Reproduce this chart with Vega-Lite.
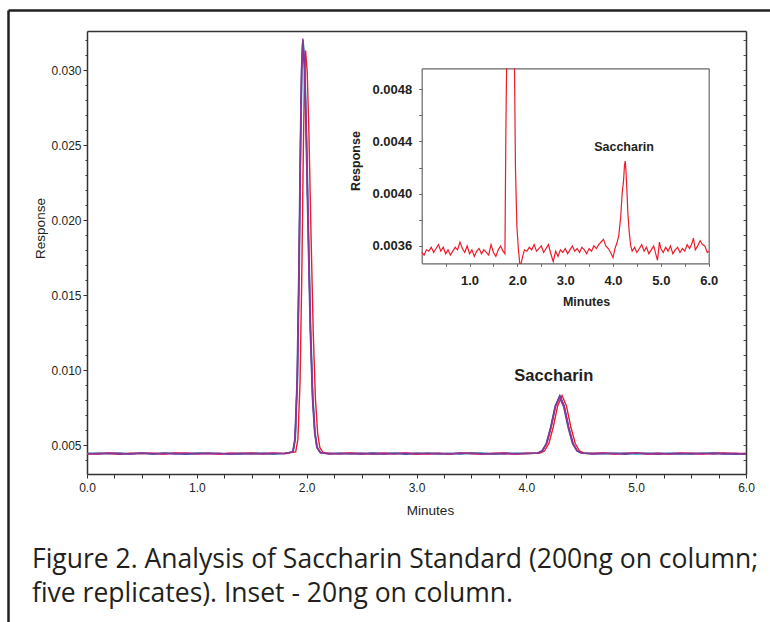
{
  "$schema": "https://vega.github.io/schema/vega-lite/v6.json",
  "width": 762,
  "height": 612,
  "autosize": "none",
  "padding": {"left": 8, "top": 10, "right": 0, "bottom": 0},
  "background": "white",
  "config": {
    "view": {"stroke": null},
    "axis": {"labelFont": "Liberation Sans", "titleFont": "Liberation Sans", "grid": false, "labelOverlap": false, "labelFlush": false}
  },
  "title": {
    "text": ["Figure 2. Analysis of Saccharin Standard (200ng on column;", "five replicates). Inset - 20ng on column."],
    "orient": "bottom", "anchor": "start", "frame": "group", "offset": -57, "dx": 24,
    "font": "Open Sans", "fontSize": 26.5, "fontWeight": "normal", "color": "#231f20",
    "lineHeight": 34, "baseline": "alphabetic"
  },
  "datasets": {
    "main": [
      {"s":"C","t":0,"r":0.00443},{"s":"C","t":0.1,"r":0.00446},{"s":"C","t":0.2,"r":0.004415},{"s":"C","t":0.3,"r":0.004475},{"s":"C","t":0.4,"r":0.0044},{"s":"C","t":0.5,"r":0.004445},{"s":"C","t":0.6,"r":0.004385},{"s":"C","t":0.7,"r":0.00446},{"s":"C","t":0.8,"r":0.00443},{"s":"C","t":0.9,"r":0.004415},{"s":"C","t":1,"r":0.004475},{"s":"C","t":1.1,"r":0.004445},{"s":"C","t":1.2,"r":0.0044},{"s":"C","t":1.3,"r":0.00443},{"s":"C","t":1.4,"r":0.00446},{"s":"C","t":1.5,"r":0.004415},{"s":"C","t":1.6,"r":0.004445},{"s":"C","t":1.7,"r":0.0044},{"s":"C","t":1.8,"r":0.00443},
      {"s":"C","t":1.878,"r":0.00454},{"s":"C","t":1.898,"r":0.0054},{"s":"C","t":1.918,"r":0.00939},{"s":"C","t":1.933,"r":0.01634},{"s":"C","t":1.948,"r":0.02538},{"s":"C","t":1.958,"r":0.03018},{"s":"C","t":1.968,"r":0.032},{"s":"C","t":1.983,"r":0.03051},{"s":"C","t":1.998,"r":0.02651},{"s":"C","t":2.018,"r":0.01929},{"s":"C","t":2.038,"r":0.01265},{"s":"C","t":2.058,"r":0.00815},{"s":"C","t":2.078,"r":0.00581},{"s":"C","t":2.098,"r":0.00484},{"s":"C","t":2.128,"r":0.00449},
      {"s":"C","t":2.2,"r":0.004445},{"s":"C","t":2.3,"r":0.0044},{"s":"C","t":2.4,"r":0.00446},{"s":"C","t":2.5,"r":0.00443},{"s":"C","t":2.6,"r":0.004385},{"s":"C","t":2.7,"r":0.004445},{"s":"C","t":2.8,"r":0.004475},{"s":"C","t":2.9,"r":0.004415},{"s":"C","t":3,"r":0.00443},{"s":"C","t":3.1,"r":0.00446},{"s":"C","t":3.2,"r":0.0044},{"s":"C","t":3.3,"r":0.004445},{"s":"C","t":3.4,"r":0.00443},{"s":"C","t":3.5,"r":0.004415},{"s":"C","t":3.6,"r":0.004475},{"s":"C","t":3.7,"r":0.0044},{"s":"C","t":3.8,"r":0.00443},{"s":"C","t":3.9,"r":0.00446},{"s":"C","t":4,"r":0.004445},
      {"s":"C","t":4.105,"r":0.00446},{"s":"C","t":4.145,"r":0.0046},{"s":"C","t":4.185,"r":0.0051},{"s":"C","t":4.225,"r":0.0062},{"s":"C","t":4.265,"r":0.00761},{"s":"C","t":4.305,"r":0.0083},{"s":"C","t":4.345,"r":0.00761},{"s":"C","t":4.385,"r":0.0062},{"s":"C","t":4.425,"r":0.0051},{"s":"C","t":4.465,"r":0.0046},{"s":"C","t":4.505,"r":0.00446},
      {"s":"C","t":4.6,"r":0.00446},{"s":"C","t":4.7,"r":0.004415},{"s":"C","t":4.8,"r":0.00443},{"s":"C","t":4.9,"r":0.004475},{"s":"C","t":5,"r":0.0044},{"s":"C","t":5.1,"r":0.004445},{"s":"C","t":5.2,"r":0.004415},{"s":"C","t":5.3,"r":0.00446},{"s":"C","t":5.4,"r":0.00443},{"s":"C","t":5.5,"r":0.004385},{"s":"C","t":5.6,"r":0.004445},{"s":"C","t":5.7,"r":0.00446},{"s":"C","t":5.8,"r":0.004415},{"s":"C","t":5.9,"r":0.00443},{"s":"C","t":6,"r":0.0044},

      {"s":"R","t":0,"r":0.0044},{"s":"R","t":0.1,"r":0.004445},{"s":"R","t":0.2,"r":0.00443},{"s":"R","t":0.3,"r":0.004385},{"s":"R","t":0.4,"r":0.00446},{"s":"R","t":0.5,"r":0.00443},{"s":"R","t":0.6,"r":0.004445},{"s":"R","t":0.7,"r":0.0044},{"s":"R","t":0.8,"r":0.004475},{"s":"R","t":0.9,"r":0.00443},{"s":"R","t":1,"r":0.004415},{"s":"R","t":1.1,"r":0.00446},{"s":"R","t":1.2,"r":0.0044},{"s":"R","t":1.3,"r":0.004445},{"s":"R","t":1.4,"r":0.00443},{"s":"R","t":1.5,"r":0.004475},{"s":"R","t":1.6,"r":0.004415},{"s":"R","t":1.7,"r":0.00443},{"s":"R","t":1.8,"r":0.004445},
      {"s":"R","t":1.9,"r":0.00454},{"s":"R","t":1.92,"r":0.00537},{"s":"R","t":1.94,"r":0.00927},{"s":"R","t":1.955,"r":0.01604},{"s":"R","t":1.97,"r":0.02485},{"s":"R","t":1.98,"r":0.02953},{"s":"R","t":1.99,"r":0.0313},{"s":"R","t":2.005,"r":0.02985},{"s":"R","t":2.02,"r":0.02595},{"s":"R","t":2.04,"r":0.01891},{"s":"R","t":2.06,"r":0.01244},{"s":"R","t":2.08,"r":0.00806},{"s":"R","t":2.1,"r":0.00577},{"s":"R","t":2.12,"r":0.00483},{"s":"R","t":2.15,"r":0.00449},
      {"s":"R","t":2.2,"r":0.004415},{"s":"R","t":2.3,"r":0.00443},{"s":"R","t":2.4,"r":0.004475},{"s":"R","t":2.5,"r":0.0044},{"s":"R","t":2.6,"r":0.004445},{"s":"R","t":2.7,"r":0.00443},{"s":"R","t":2.8,"r":0.004415},{"s":"R","t":2.9,"r":0.00446},{"s":"R","t":3,"r":0.004385},{"s":"R","t":3.1,"r":0.00443},{"s":"R","t":3.2,"r":0.004445},{"s":"R","t":3.3,"r":0.0044},{"s":"R","t":3.4,"r":0.00446},{"s":"R","t":3.5,"r":0.00443},{"s":"R","t":3.6,"r":0.004415},{"s":"R","t":3.7,"r":0.004445},{"s":"R","t":3.8,"r":0.004475},{"s":"R","t":3.9,"r":0.0044},{"s":"R","t":4,"r":0.00443},
      {"s":"R","t":4.125,"r":0.00446},{"s":"R","t":4.165,"r":0.0046},{"s":"R","t":4.205,"r":0.0051},{"s":"R","t":4.245,"r":0.0062},{"s":"R","t":4.285,"r":0.00761},{"s":"R","t":4.325,"r":0.0083},{"s":"R","t":4.365,"r":0.00761},{"s":"R","t":4.405,"r":0.0062},{"s":"R","t":4.445,"r":0.0051},{"s":"R","t":4.485,"r":0.0046},{"s":"R","t":4.525,"r":0.00446},
      {"s":"R","t":4.6,"r":0.00443},{"s":"R","t":4.7,"r":0.00446},{"s":"R","t":4.8,"r":0.0044},{"s":"R","t":4.9,"r":0.004445},{"s":"R","t":5,"r":0.004475},{"s":"R","t":5.1,"r":0.004415},{"s":"R","t":5.2,"r":0.00443},{"s":"R","t":5.3,"r":0.0044},{"s":"R","t":5.4,"r":0.004445},{"s":"R","t":5.5,"r":0.00446},{"s":"R","t":5.6,"r":0.004415},{"s":"R","t":5.7,"r":0.00443},{"s":"R","t":5.8,"r":0.004475},{"s":"R","t":5.9,"r":0.0044},{"s":"R","t":6,"r":0.004445},

      {"s":"B","t":0,"r":0.004445},{"s":"B","t":0.1,"r":0.004415},{"s":"B","t":0.2,"r":0.00446},{"s":"B","t":0.3,"r":0.00443},{"s":"B","t":0.4,"r":0.0044},{"s":"B","t":0.5,"r":0.004475},{"s":"B","t":0.6,"r":0.004415},{"s":"B","t":0.7,"r":0.00443},{"s":"B","t":0.8,"r":0.004445},{"s":"B","t":0.9,"r":0.004385},{"s":"B","t":1,"r":0.00443},{"s":"B","t":1.1,"r":0.00446},{"s":"B","t":1.2,"r":0.004445},{"s":"B","t":1.3,"r":0.004415},{"s":"B","t":1.4,"r":0.0044},{"s":"B","t":1.5,"r":0.00443},{"s":"B","t":1.6,"r":0.00446},{"s":"B","t":1.7,"r":0.004415},{"s":"B","t":1.8,"r":0.004445},
      {"s":"B","t":1.872,"r":0.00454},{"s":"B","t":1.892,"r":0.00539},{"s":"B","t":1.912,"r":0.00936},{"s":"B","t":1.927,"r":0.01625},{"s":"B","t":1.942,"r":0.02523},{"s":"B","t":1.952,"r":0.02999},{"s":"B","t":1.962,"r":0.0318},{"s":"B","t":1.977,"r":0.03032},{"s":"B","t":1.992,"r":0.02635},{"s":"B","t":2.012,"r":0.01918},{"s":"B","t":2.032,"r":0.01259},{"s":"B","t":2.052,"r":0.00813},{"s":"B","t":2.072,"r":0.0058},{"s":"B","t":2.092,"r":0.00484},{"s":"B","t":2.122,"r":0.00449},
      {"s":"B","t":2.2,"r":0.00443},{"s":"B","t":2.3,"r":0.00446},{"s":"B","t":2.4,"r":0.004415},{"s":"B","t":2.5,"r":0.0044},{"s":"B","t":2.6,"r":0.004475},{"s":"B","t":2.7,"r":0.00443},{"s":"B","t":2.8,"r":0.004445},{"s":"B","t":2.9,"r":0.004385},{"s":"B","t":3,"r":0.00446},{"s":"B","t":3.1,"r":0.004415},{"s":"B","t":3.2,"r":0.00443},{"s":"B","t":3.3,"r":0.004445},{"s":"B","t":3.4,"r":0.0044},{"s":"B","t":3.5,"r":0.004475},{"s":"B","t":3.6,"r":0.00443},{"s":"B","t":3.7,"r":0.004415},{"s":"B","t":3.8,"r":0.00446},{"s":"B","t":3.9,"r":0.004415},{"s":"B","t":4,"r":0.004445},
      {"s":"B","t":4.1,"r":0.00446},{"s":"B","t":4.14,"r":0.0046},{"s":"B","t":4.18,"r":0.00508},{"s":"B","t":4.22,"r":0.00616},{"s":"B","t":4.26,"r":0.00753},{"s":"B","t":4.3,"r":0.0082},{"s":"B","t":4.34,"r":0.00753},{"s":"B","t":4.38,"r":0.00616},{"s":"B","t":4.42,"r":0.00508},{"s":"B","t":4.46,"r":0.0046},{"s":"B","t":4.5,"r":0.00446},
      {"s":"B","t":4.6,"r":0.004415},{"s":"B","t":4.7,"r":0.00443},{"s":"B","t":4.8,"r":0.00446},{"s":"B","t":4.9,"r":0.004385},{"s":"B","t":5,"r":0.004445},{"s":"B","t":5.1,"r":0.00443},{"s":"B","t":5.2,"r":0.00446},{"s":"B","t":5.3,"r":0.004415},{"s":"B","t":5.4,"r":0.0044},{"s":"B","t":5.5,"r":0.004445},{"s":"B","t":5.6,"r":0.00443},{"s":"B","t":5.7,"r":0.004475},{"s":"B","t":5.8,"r":0.004415},{"s":"B","t":5.9,"r":0.0044},{"s":"B","t":6,"r":0.00443},

      {"s":"M","t":0,"r":0.00443},{"s":"M","t":0.1,"r":0.0044},{"s":"M","t":0.2,"r":0.004475},{"s":"M","t":0.3,"r":0.004445},{"s":"M","t":0.4,"r":0.004415},{"s":"M","t":0.5,"r":0.00443},{"s":"M","t":0.6,"r":0.00446},{"s":"M","t":0.7,"r":0.0044},{"s":"M","t":0.8,"r":0.004445},{"s":"M","t":0.9,"r":0.004475},{"s":"M","t":1,"r":0.004415},{"s":"M","t":1.1,"r":0.00443},{"s":"M","t":1.2,"r":0.0044},{"s":"M","t":1.3,"r":0.00446},{"s":"M","t":1.4,"r":0.004445},{"s":"M","t":1.5,"r":0.004415},{"s":"M","t":1.6,"r":0.00443},{"s":"M","t":1.7,"r":0.004475},{"s":"M","t":1.8,"r":0.004415},
      {"s":"M","t":1.875,"r":0.00454},{"s":"M","t":1.895,"r":0.00539},{"s":"M","t":1.915,"r":0.00937},{"s":"M","t":1.93,"r":0.0163},{"s":"M","t":1.945,"r":0.02531},{"s":"M","t":1.955,"r":0.03009},{"s":"M","t":1.965,"r":0.0319},{"s":"M","t":1.98,"r":0.03042},{"s":"M","t":1.995,"r":0.02643},{"s":"M","t":2.015,"r":0.01924},{"s":"M","t":2.035,"r":0.01262},{"s":"M","t":2.055,"r":0.00814},{"s":"M","t":2.075,"r":0.0058},{"s":"M","t":2.095,"r":0.00484},{"s":"M","t":2.125,"r":0.00449},
      {"s":"M","t":2.2,"r":0.00446},{"s":"M","t":2.3,"r":0.004415},{"s":"M","t":2.4,"r":0.00443},{"s":"M","t":2.5,"r":0.004445},{"s":"M","t":2.6,"r":0.0044},{"s":"M","t":2.7,"r":0.00446},{"s":"M","t":2.8,"r":0.004415},{"s":"M","t":2.9,"r":0.004475},{"s":"M","t":3,"r":0.00443},{"s":"M","t":3.1,"r":0.0044},{"s":"M","t":3.2,"r":0.004445},{"s":"M","t":3.3,"r":0.004415},{"s":"M","t":3.4,"r":0.00446},{"s":"M","t":3.5,"r":0.00443},{"s":"M","t":3.6,"r":0.004385},{"s":"M","t":3.7,"r":0.004445},{"s":"M","t":3.8,"r":0.00443},{"s":"M","t":3.9,"r":0.0044},{"s":"M","t":4,"r":0.00446},
      {"s":"M","t":4.105,"r":0.00446},{"s":"M","t":4.145,"r":0.0046},{"s":"M","t":4.185,"r":0.00508},{"s":"M","t":4.225,"r":0.00616},{"s":"M","t":4.265,"r":0.00753},{"s":"M","t":4.305,"r":0.0082},{"s":"M","t":4.345,"r":0.00753},{"s":"M","t":4.385,"r":0.00616},{"s":"M","t":4.425,"r":0.00508},{"s":"M","t":4.465,"r":0.0046},{"s":"M","t":4.505,"r":0.00446},
      {"s":"M","t":4.6,"r":0.004445},{"s":"M","t":4.7,"r":0.004475},{"s":"M","t":4.8,"r":0.004415},{"s":"M","t":4.9,"r":0.00443},{"s":"M","t":5,"r":0.00446},{"s":"M","t":5.1,"r":0.0044},{"s":"M","t":5.2,"r":0.004445},{"s":"M","t":5.3,"r":0.004415},{"s":"M","t":5.4,"r":0.004475},{"s":"M","t":5.5,"r":0.00443},{"s":"M","t":5.6,"r":0.0044},{"s":"M","t":5.7,"r":0.004445},{"s":"M","t":5.8,"r":0.00443},{"s":"M","t":5.9,"r":0.00446},{"s":"M","t":6,"r":0.004415},

      {"s":"P","t":0,"r":0.004415},{"s":"P","t":0.1,"r":0.00443},{"s":"P","t":0.2,"r":0.004445},{"s":"P","t":0.3,"r":0.0044},{"s":"P","t":0.4,"r":0.00443},{"s":"P","t":0.5,"r":0.00446},{"s":"P","t":0.6,"r":0.004415},{"s":"P","t":0.7,"r":0.004475},{"s":"P","t":0.8,"r":0.0044},{"s":"P","t":0.9,"r":0.00443},{"s":"P","t":1,"r":0.004445},{"s":"P","t":1.1,"r":0.004415},{"s":"P","t":1.2,"r":0.00446},{"s":"P","t":1.3,"r":0.004385},{"s":"P","t":1.4,"r":0.00443},{"s":"P","t":1.5,"r":0.004445},{"s":"P","t":1.6,"r":0.0044},{"s":"P","t":1.7,"r":0.00443},{"s":"P","t":1.8,"r":0.00446},
      {"s":"P","t":1.875,"r":0.00454},{"s":"P","t":1.895,"r":0.0054},{"s":"P","t":1.915,"r":0.00941},{"s":"P","t":1.93,"r":0.01638},{"s":"P","t":1.945,"r":0.02546},{"s":"P","t":1.955,"r":0.03027},{"s":"P","t":1.965,"r":0.0321},{"s":"P","t":1.98,"r":0.03061},{"s":"P","t":1.995,"r":0.02659},{"s":"P","t":2.015,"r":0.01934},{"s":"P","t":2.035,"r":0.01268},{"s":"P","t":2.055,"r":0.00817},{"s":"P","t":2.075,"r":0.00581},{"s":"P","t":2.095,"r":0.00485},{"s":"P","t":2.125,"r":0.00449},
      {"s":"P","t":2.2,"r":0.0044},{"s":"P","t":2.3,"r":0.004445},{"s":"P","t":2.4,"r":0.004415},{"s":"P","t":2.5,"r":0.00446},{"s":"P","t":2.6,"r":0.00443},{"s":"P","t":2.7,"r":0.004385},{"s":"P","t":2.8,"r":0.004445},{"s":"P","t":2.9,"r":0.00443},{"s":"P","t":3,"r":0.004415},{"s":"P","t":3.1,"r":0.00446},{"s":"P","t":3.2,"r":0.00443},{"s":"P","t":3.3,"r":0.0044},{"s":"P","t":3.4,"r":0.004475},{"s":"P","t":3.5,"r":0.004445},{"s":"P","t":3.6,"r":0.004415},{"s":"P","t":3.7,"r":0.00443},{"s":"P","t":3.8,"r":0.0044},{"s":"P","t":3.9,"r":0.004445},{"s":"P","t":4,"r":0.004415},
      {"s":"P","t":4.105,"r":0.00446},{"s":"P","t":4.145,"r":0.0046},{"s":"P","t":4.185,"r":0.0051},{"s":"P","t":4.225,"r":0.0062},{"s":"P","t":4.265,"r":0.00761},{"s":"P","t":4.305,"r":0.0083},{"s":"P","t":4.345,"r":0.00761},{"s":"P","t":4.385,"r":0.0062},{"s":"P","t":4.425,"r":0.0051},{"s":"P","t":4.465,"r":0.0046},{"s":"P","t":4.505,"r":0.00446},
      {"s":"P","t":4.6,"r":0.0044},{"s":"P","t":4.7,"r":0.00443},{"s":"P","t":4.8,"r":0.004445},{"s":"P","t":4.9,"r":0.004415},{"s":"P","t":5,"r":0.00446},{"s":"P","t":5.1,"r":0.00443},{"s":"P","t":5.2,"r":0.004385},{"s":"P","t":5.3,"r":0.004445},{"s":"P","t":5.4,"r":0.00443},{"s":"P","t":5.5,"r":0.004415},{"s":"P","t":5.6,"r":0.00446},{"s":"P","t":5.7,"r":0.0044},{"s":"P","t":5.8,"r":0.00443},{"s":"P","t":5.9,"r":0.004415},{"s":"P","t":6,"r":0.004385}
    ],
    "inset": [
      {"g":1,"t":0,"r":0.00355},{"g":1,"t":0.05,"r":0.00353},{"g":1,"t":0.1,"r":0.00357},{"g":1,"t":0.15,"r":0.00356},{"g":1,"t":0.2,"r":0.00359},{"g":1,"t":0.25,"r":0.00355},{"g":1,"t":0.3,"r":0.00358},{"g":1,"t":0.35,"r":0.00361},{"g":1,"t":0.4,"r":0.00356},{"g":1,"t":0.45,"r":0.00359},{"g":1,"t":0.5,"r":0.00354},{"g":1,"t":0.55,"r":0.00357},{"g":1,"t":0.6,"r":0.00353},{"g":1,"t":0.65,"r":0.00356},{"g":1,"t":0.7,"r":0.00359},{"g":1,"t":0.75,"r":0.00357},{"g":1,"t":0.8,"r":0.00363},{"g":1,"t":0.85,"r":0.00358},{"g":1,"t":0.9,"r":0.00355},{"g":1,"t":0.95,"r":0.0036},{"g":1,"t":1,"r":0.00354},{"g":1,"t":1.05,"r":0.00357},{"g":1,"t":1.1,"r":0.00352},{"g":1,"t":1.15,"r":0.00356},{"g":1,"t":1.2,"r":0.00358},{"g":1,"t":1.25,"r":0.00354},{"g":1,"t":1.3,"r":0.00357},{"g":1,"t":1.35,"r":0.00355},{"g":1,"t":1.4,"r":0.00353},{"g":1,"t":1.45,"r":0.00361},{"g":1,"t":1.5,"r":0.00355},{"g":1,"t":1.55,"r":0.00352},{"g":1,"t":1.6,"r":0.00357},{"g":1,"t":1.65,"r":0.0036},{"g":1,"t":1.7,"r":0.00356},{"g":1,"t":1.74,"r":0.00354},{"g":1,"t":1.76,"r":0.0045},{"g":1,"t":1.775,"r":0.0052},
      {"g":2,"t":1.94,"r":0.0052},{"g":2,"t":1.96,"r":0.0042},{"g":2,"t":1.99,"r":0.00375},{"g":2,"t":2.02,"r":0.00358},{"g":2,"t":2.05,"r":0.00345},{"g":2,"t":2.08,"r":0.00344},{"g":2,"t":2.11,"r":0.00352},{"g":2,"t":2.15,"r":0.00357},{"g":2,"t":2.2,"r":0.00356},{"g":2,"t":2.25,"r":0.00359},{"g":2,"t":2.3,"r":0.00357},{"g":2,"t":2.35,"r":0.00361},{"g":2,"t":2.4,"r":0.00356},{"g":2,"t":2.45,"r":0.00358},{"g":2,"t":2.5,"r":0.0036},{"g":2,"t":2.55,"r":0.00355},{"g":2,"t":2.6,"r":0.00358},{"g":2,"t":2.65,"r":0.00361},{"g":2,"t":2.7,"r":0.00354},{"g":2,"t":2.75,"r":0.00348},{"g":2,"t":2.8,"r":0.00356},{"g":2,"t":2.85,"r":0.00352},{"g":2,"t":2.9,"r":0.00357},{"g":2,"t":2.95,"r":0.00355},{"g":2,"t":3,"r":0.00358},{"g":2,"t":3.05,"r":0.00354},{"g":2,"t":3.1,"r":0.00357},{"g":2,"t":3.15,"r":0.0036},{"g":2,"t":3.2,"r":0.00356},{"g":2,"t":3.25,"r":0.00358},{"g":2,"t":3.3,"r":0.00355},{"g":2,"t":3.35,"r":0.00359},{"g":2,"t":3.4,"r":0.00357},{"g":2,"t":3.45,"r":0.00354},{"g":2,"t":3.5,"r":0.00358},{"g":2,"t":3.55,"r":0.00356},{"g":2,"t":3.6,"r":0.0036},{"g":2,"t":3.65,"r":0.00358},{"g":2,"t":3.7,"r":0.00361},{"g":2,"t":3.75,"r":0.00363},{"g":2,"t":3.8,"r":0.00365},{"g":2,"t":3.85,"r":0.0036},{"g":2,"t":3.9,"r":0.00358},{"g":2,"t":3.95,"r":0.00355},{"g":2,"t":4,"r":0.00351},
      {"g":2,"t":4.04,"r":0.00358},{"g":2,"t":4.08,"r":0.00362},{"g":2,"t":4.12,"r":0.00368},{"g":2,"t":4.16,"r":0.00382},{"g":2,"t":4.19,"r":0.004},{"g":2,"t":4.22,"r":0.0041},{"g":2,"t":4.24,"r":0.00422},{"g":2,"t":4.255,"r":0.00425},{"g":2,"t":4.27,"r":0.00418},{"g":2,"t":4.29,"r":0.00402},{"g":2,"t":4.31,"r":0.00385},{"g":2,"t":4.34,"r":0.0037},{"g":2,"t":4.37,"r":0.0036},{"g":2,"t":4.4,"r":0.00356},{"g":2,"t":4.45,"r":0.00359},{"g":2,"t":4.5,"r":0.00355},{"g":2,"t":4.55,"r":0.00358},{"g":2,"t":4.6,"r":0.00361},{"g":2,"t":4.65,"r":0.00356},{"g":2,"t":4.7,"r":0.00359},{"g":2,"t":4.75,"r":0.00354},{"g":2,"t":4.8,"r":0.00357},{"g":2,"t":4.85,"r":0.0036},{"g":2,"t":4.9,"r":0.00353},{"g":2,"t":4.93,"r":0.00349},{"g":2,"t":4.97,"r":0.00363},{"g":2,"t":5,"r":0.00358},{"g":2,"t":5.05,"r":0.00355},{"g":2,"t":5.1,"r":0.00359},{"g":2,"t":5.15,"r":0.00356},{"g":2,"t":5.2,"r":0.0036},{"g":2,"t":5.25,"r":0.00354},{"g":2,"t":5.3,"r":0.00357},{"g":2,"t":5.35,"r":0.00359},{"g":2,"t":5.4,"r":0.00355},{"g":2,"t":5.45,"r":0.00358},{"g":2,"t":5.5,"r":0.00356},{"g":2,"t":5.55,"r":0.00361},{"g":2,"t":5.6,"r":0.00358},{"g":2,"t":5.65,"r":0.00362},{"g":2,"t":5.68,"r":0.00366},{"g":2,"t":5.72,"r":0.00357},{"g":2,"t":5.77,"r":0.0036},{"g":2,"t":5.82,"r":0.00364},{"g":2,"t":5.87,"r":0.00361},{"g":2,"t":5.92,"r":0.0036},{"g":2,"t":5.97,"r":0.00355},{"g":2,"t":6,"r":0.00356}
    ],
    "labels": [
      {"plot":"main","t":4.25,"r":0.0096,"label":"Saccharin"},
      {"plot":"inset","t":4.23,"r":0.00436,"label":"Saccharin"}
    ]
  },
  "layer": [
    {
      "data": {"values": [{"a": 0}]},
      "mark": {"type": "point", "opacity": 0},
      "encoding": {
        "x": {"field": "a", "type": "quantitative", "scale": {"domain": [0, 1], "nice": false},
          "axis": {"orient": "top", "offset": 0, "ticks": false, "labels": false, "title": null, "domainColor": "#231f20", "domainWidth": 2.5}},
        "y": {"field": "a", "type": "quantitative", "scale": {"domain": [0, 1], "nice": false},
          "axis": {"orient": "left", "offset": 0, "ticks": false, "labels": false, "title": null, "domainColor": "#231f20", "domainWidth": 2.5}}
      }
    },
    {
      "layer": [
        {
          "data": {"name": "main"},
          "mark": {"type": "line", "strokeWidth": 1.4},
          "encoding": {
            "x": {"field": "t", "type": "quantitative",
              "scale": {"domain": [0, 6], "range": [79, 738], "nice": false, "zero": false},
              "axis": {"orient": "bottom", "offset": -148,
                "values": [0,0.25,0.5,0.75,1,1.25,1.5,1.75,2,2.25,2.5,2.75,3,3.25,3.5,3.75,4,4.25,4.5,4.75,5,5.25,5.5,5.75,6],
                "labelExpr": "datum.value % 1 === 0 ? format(datum.value, '.1f') : ''",
                "tickSize": 4, "labelPadding": 4, "labelFontSize": 12, "labelColor": "#231f20",
                "domainColor": "#333333", "domainWidth": 1.5, "tickColor": "#333333",
                "title": "Minutes", "titleFontSize": 13.5, "titleFontWeight": "normal", "titleColor": "#231f20",
                "titleX": 422, "titleY": 40, "titleBaseline": "alphabetic"}},
            "y": {"field": "r", "type": "quantitative",
              "scale": {"domain": [0.003067, 0.0326], "range": [464, 21], "nice": false, "zero": false},
              "axis": {"orient": "left", "offset": -79,
                "values": [0.004,0.005,0.006,0.007,0.008,0.009,0.01,0.011,0.012,0.013,0.014,0.015,0.016,0.017,0.018,0.019,0.02,0.021,0.022,0.023,0.024,0.025,0.026,0.027,0.028,0.029,0.03,0.031,0.032],
                "labelExpr": "round(datum.value * 1000) % 5 === 0 ? format(datum.value, '.3f') : ''",
                "tickSize": {"condition": {"test": "round(datum.value * 1000) % 5 !== 0", "value": 2}, "value": 4},
                "labelPadding": 2, "labelFontSize": 12, "labelColor": "#231f20",
                "domainColor": "#333333", "domainWidth": 1.5, "tickColor": "#333333",
                "title": "Response", "titleFontSize": 13.5, "titleFontWeight": "normal", "titleColor": "#231f20",
                "titleX": -47, "titleY": 218, "titleAngle": -90, "titleBaseline": "middle", "titleAlign": "center"}},
            "color": {"field": "s", "type": "nominal", "legend": null,
              "scale": {"domain": ["C", "R", "B", "M", "P"], "range": ["#22b0cc", "#ec1c2a", "#3f4fa6", "#e4197f", "#7e3c96"]}}
          }
        },
        {
          "data": {"name": "labels"},
          "transform": [{"filter": "datum.plot === 'main'"}],
          "mark": {"type": "text", "font": "Liberation Sans", "fontSize": 16.5, "fontWeight": "bold", "color": "#231f20"},
          "encoding": {
            "x": {"field": "t", "type": "quantitative",
              "axis": {"orient": "top", "offset": -21, "ticks": false, "labels": false, "title": null, "domainColor": "#333333", "domainWidth": 1.5}},
            "y": {"field": "r", "type": "quantitative",
              "axis": {"orient": "right", "offset": -24, "labels": false, "title": null, "domainColor": "#333333", "domainWidth": 1.5,
                "values": [0.004,0.005,0.006,0.007,0.008,0.009,0.01,0.011,0.012,0.013,0.014,0.015,0.016,0.017,0.018,0.019,0.02,0.021,0.022,0.023,0.024,0.025,0.026,0.027,0.028,0.029,0.03,0.031,0.032],
                "tickSize": -3, "tickColor": "#555555"}},
            "text": {"field": "label"}
          }
        }
      ],
      "resolve": {"axis": {"x": "independent", "y": "independent"}}
    },
    {
      "layer": [
        {
          "data": {"name": "inset"},
          "mark": {"type": "line", "strokeWidth": 1.2, "color": "#ec1c2a"},
          "encoding": {
            "x": {"field": "t", "type": "quantitative",
              "scale": {"domain": [0, 6], "range": [413.7, 700.7], "nice": false, "zero": false},
              "axis": {"orient": "bottom", "offset": -358.7,
                "values": [0.5,1,1.5,2,2.5,3,3.5,4,4.5,5,5.5,6],
                "labelExpr": "datum.value % 1 === 0 ? format(datum.value, '.1f') : ''",
                "tickSize": 3, "labelPadding": 8, "labelFontSize": 13, "labelFontWeight": "bold", "labelColor": "#231f20",
                "domainColor": "#666666", "domainWidth": 1.2, "tickColor": "#666666",
                "title": "Minutes", "titleFontSize": 12.5, "titleFontWeight": "bold", "titleColor": "#231f20",
                "titleX": 578, "titleY": 41.7, "titleBaseline": "alphabetic"}},
            "y": {"field": "r", "type": "quantitative",
              "scale": {"domain": [0.003467, 0.00496], "range": [253.3, 58.3], "nice": false, "zero": false, "clamp": true},
              "axis": {"orient": "left", "offset": -413.7,
                "values": [0.0036,0.0038,0.004,0.0042,0.0044,0.0046,0.0048],
                "labelExpr": "round(datum.value * 10000) % 4 === 0 ? format(datum.value, '.4f') : ''",
                "tickSize": 3, "labelPadding": 7, "labelFontSize": 13, "labelFontWeight": "bold", "labelColor": "#231f20",
                "domainColor": "#666666", "domainWidth": 1.2, "tickColor": "#666666",
                "title": "Response", "titleFontSize": 12.5, "titleFontWeight": "bold", "titleColor": "#231f20",
                "titleX": -66.7, "titleY": 150.5, "titleAngle": -90, "titleBaseline": "middle", "titleAlign": "center"}},
            "detail": {"field": "g", "type": "nominal"}
          }
        },
        {
          "data": {"name": "labels"},
          "transform": [{"filter": "datum.plot === 'inset'"}],
          "mark": {"type": "text", "font": "Liberation Sans", "fontSize": 12.5, "fontWeight": "bold", "color": "#231f20"},
          "encoding": {
            "x": {"field": "t", "type": "quantitative",
              "axis": {"orient": "top", "offset": -58.3, "ticks": false, "labels": false, "title": null, "domainColor": "#666666", "domainWidth": 1.2}},
            "y": {"field": "r", "type": "quantitative",
              "axis": {"orient": "right", "offset": -61.3, "ticks": false, "labels": false, "title": null, "domainColor": "#666666", "domainWidth": 1.2}},
            "text": {"field": "label"}
          }
        }
      ],
      "resolve": {"axis": {"x": "independent", "y": "independent"}}
    }
  ],
  "resolve": {"scale": {"x": "independent", "y": "independent"}, "axis": {"x": "independent", "y": "independent"}}
}
